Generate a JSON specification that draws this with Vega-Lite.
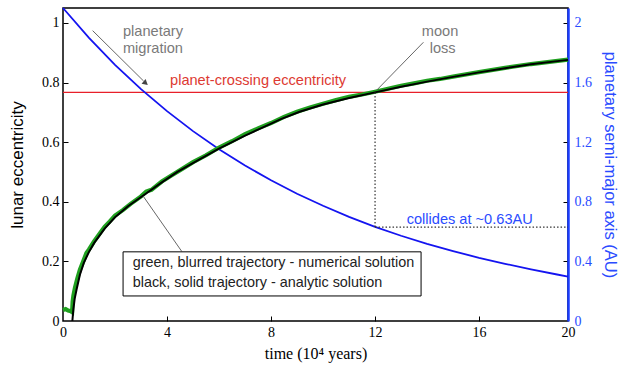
{
  "$schema": "https://vega.github.io/schema/vega-lite/v6.json",
  "width": 505,
  "height": 313,
  "autosize": {"type": "none"},
  "padding": {"left": 63, "top": 8, "right": 52, "bottom": 50},
  "background": "white",
  "config": {
    "view": {"stroke": "black", "strokeWidth": 1.5},
    "axis": {
      "labelFont": "Liberation Serif",
      "labelFontSize": 14,
      "labelColor": "black",
      "labelFlush": false,
      "titleFont": "Liberation Sans",
      "titleFontWeight": "normal",
      "titleFontSize": 17,
      "titleColor": "black",
      "grid": false,
      "domain": false,
      "tickColor": "black",
      "tickWidth": 1
    }
  },
  "datasets": {
    "blue": [
      {"t": 0, "a": 2.1},
      {"t": 1, "a": 1.9},
      {"t": 2, "a": 1.719},
      {"t": 3, "a": 1.556},
      {"t": 4, "a": 1.408},
      {"t": 5, "a": 1.274},
      {"t": 6, "a": 1.152},
      {"t": 7, "a": 1.043},
      {"t": 8, "a": 0.944},
      {"t": 9, "a": 0.854},
      {"t": 10, "a": 0.773},
      {"t": 11, "a": 0.699},
      {"t": 12, "a": 0.632},
      {"t": 13, "a": 0.572},
      {"t": 14, "a": 0.518},
      {"t": 15, "a": 0.469},
      {"t": 16, "a": 0.424},
      {"t": 17, "a": 0.384},
      {"t": 18, "a": 0.347},
      {"t": 19, "a": 0.312},
      {"t": 19.42, "a": 0.298}
    ],
    "black": [
      {"t": 0.36, "e": 0.0},
      {"t": 0.4, "e": 0.04},
      {"t": 0.45, "e": 0.075},
      {"t": 0.52, "e": 0.105},
      {"t": 0.65, "e": 0.155},
      {"t": 0.8, "e": 0.195},
      {"t": 1.0, "e": 0.232},
      {"t": 1.2, "e": 0.262},
      {"t": 1.6, "e": 0.31},
      {"t": 2.0, "e": 0.348},
      {"t": 2.5, "e": 0.385},
      {"t": 3.1, "e": 0.422},
      {"t": 3.8, "e": 0.465},
      {"t": 4.4, "e": 0.5},
      {"t": 5.2, "e": 0.54},
      {"t": 6.0, "e": 0.578},
      {"t": 7.0, "e": 0.622},
      {"t": 7.5, "e": 0.642},
      {"t": 8.4, "e": 0.678},
      {"t": 9.1, "e": 0.702},
      {"t": 10.0, "e": 0.726},
      {"t": 11.0, "e": 0.748},
      {"t": 12.0, "e": 0.767},
      {"t": 13.0, "e": 0.786},
      {"t": 14.0, "e": 0.803},
      {"t": 15.0, "e": 0.819},
      {"t": 16.0, "e": 0.834},
      {"t": 17.0, "e": 0.848},
      {"t": 18.0, "e": 0.861},
      {"t": 19.42, "e": 0.876}
    ],
    "green": [
      {"t": 0.0, "e": 0.037},
      {"t": 0.1, "e": 0.04},
      {"t": 0.2, "e": 0.035},
      {"t": 0.3, "e": 0.033},
      {"t": 0.35, "e": 0.03},
      {"t": 0.37, "e": 0.065},
      {"t": 0.4, "e": 0.085},
      {"t": 0.46, "e": 0.112},
      {"t": 0.55, "e": 0.142},
      {"t": 0.65, "e": 0.172},
      {"t": 0.8, "e": 0.205},
      {"t": 0.9, "e": 0.228},
      {"t": 1.0, "e": 0.24},
      {"t": 1.2, "e": 0.268},
      {"t": 1.4, "e": 0.292},
      {"t": 1.6, "e": 0.316},
      {"t": 1.8, "e": 0.334},
      {"t": 2.0, "e": 0.354},
      {"t": 2.3, "e": 0.372},
      {"t": 2.6, "e": 0.393},
      {"t": 3.0, "e": 0.418},
      {"t": 3.2, "e": 0.434},
      {"t": 3.4, "e": 0.44},
      {"t": 3.8, "e": 0.468},
      {"t": 4.2, "e": 0.49},
      {"t": 4.6, "e": 0.511},
      {"t": 5.0, "e": 0.533},
      {"t": 5.5, "e": 0.556},
      {"t": 6.0, "e": 0.582},
      {"t": 6.5, "e": 0.603},
      {"t": 7.0, "e": 0.627},
      {"t": 7.5, "e": 0.646},
      {"t": 8.0, "e": 0.664},
      {"t": 8.5, "e": 0.685},
      {"t": 9.0, "e": 0.702},
      {"t": 9.5, "e": 0.716},
      {"t": 10.0, "e": 0.729},
      {"t": 10.5, "e": 0.741},
      {"t": 11.0, "e": 0.752},
      {"t": 11.5, "e": 0.76},
      {"t": 12.0, "e": 0.769},
      {"t": 12.5, "e": 0.779},
      {"t": 13.0, "e": 0.789},
      {"t": 13.5, "e": 0.797},
      {"t": 14.0, "e": 0.806},
      {"t": 14.5, "e": 0.812},
      {"t": 15.0, "e": 0.82},
      {"t": 16.0, "e": 0.835},
      {"t": 17.0, "e": 0.849},
      {"t": 18.0, "e": 0.862},
      {"t": 19.42, "e": 0.877}
    ],
    "guides": [
      {"x1": 12, "x2": 12, "y1": 0.315, "y2": 0.767},
      {"x1": 12, "x2": 19.42, "y1": 0.315, "y2": 0.315}
    ],
    "pointers": [
      {"x1": 1.14, "y1": 0.974, "x2": 3.1, "y2": 0.805},
      {"x1": 13.86, "y1": 0.935, "x2": 12.07, "y2": 0.775},
      {"x1": 4.57, "y1": 0.233, "x2": 3.09, "y2": 0.418}
    ],
    "box": [{"x1": 2.31, "x2": 13.77, "y1": 0.084, "y2": 0.232}],
    "grayText": [
      {"t": 3.46, "e": 0.97, "label": "planetary"},
      {"t": 3.46, "e": 0.913, "label": "migration"},
      {"t": 14.5, "e": 0.97, "label": "moon"},
      {"t": 14.6, "e": 0.913, "label": "loss"}
    ],
    "legendText": [
      {"t": 2.68, "e": 0.194, "label": "green, blurred trajectory - numerical solution"},
      {"t": 2.68, "e": 0.127, "label": "black, solid trajectory - analytic solution"}
    ],
    "redText": [{"t": 7.5, "e": 0.805, "label": "planet-crossing eccentricity"}],
    "blueText": [{"t": 15.64, "e": 0.34, "label": "collides at ~0.63AU"}],
    "crossing": [{"e": 0.767}],
    "arrowhead": [{"t": 3.18, "e": 0.798}]
  },
  "layer": [
    {
      "data": {"name": "crossing"},
      "mark": {"type": "rule", "color": "#e8202a", "strokeWidth": 1.3},
      "encoding": {
        "y": {
          "field": "e", "type": "quantitative",
          "scale": {"domain": [0, 1.05], "nice": false},
          "axis": {"orient": "right", "offset": -5, "tickSize": 5, "labels": false, "title": null, "values": [0.2, 0.4, 0.6, 0.8, 1]}
        }
      }
    },
    {
      "data": {"name": "blue"},
      "mark": {"type": "line", "color": "#1414f0", "strokeWidth": 1.8},
      "encoding": {
        "x": {"field": "t", "type": "quantitative", "scale": {"domain": [0, 19.42], "nice": false, "zero": false}, "axis": null},
        "y": {
          "field": "a", "type": "quantitative",
          "scale": {"domain": [0, 2.1], "nice": false},
          "axis": {
            "orient": "right",
            "title": "planetary semi-major axis (AU)",
            "titleColor": "#2a4bff",
            "titleFontSize": 16.5,
            "labelColor": "#2a4bff",
            "values": [0, 0.4, 0.8, 1.2, 1.6, 2],
            "format": "~g",
            "domain": true,
            "domainColor": "#1a3cff",
            "domainWidth": 2.5,
            "ticks": false,
            "labelPadding": 6,
            "titlePadding": 10
          }
        }
      }
    },
    {
      "data": {"name": "green"},
      "mark": {"type": "line", "color": "#1fa01f", "strokeWidth": 4.2},
      "encoding": {
        "x": {
          "field": "t", "type": "quantitative",
          "axis": {"orient": "bottom", "offset": -5, "tickSize": 5, "labels": false, "title": null, "values": [4, 8, 12, 16]}
        },
        "y": {
          "field": "e", "type": "quantitative",
          "scale": {"domain": [0, 1.05], "nice": false},
          "axis": {"orient": "left", "offset": -5, "tickSize": 5, "labels": false, "title": null, "values": [0.2, 0.4, 0.6, 0.8, 1]}
        }
      }
    },
    {
      "data": {"name": "black"},
      "mark": {"type": "line", "color": "black", "strokeWidth": 2},
      "encoding": {
        "x": {
          "field": "t", "type": "quantitative",
          "axis": {
            "orient": "bottom",
            "title": "time (10⁴ years)",
            "titleFont": "Liberation Serif",
            "titleFontSize": 16,
            "titlePadding": 6,
            "values": [0, 4, 8, 12, 16, 19.42],
            "labelExpr": "datum.value > 19 ? '20' : datum.label",
            "ticks": false,
            "labelPadding": 4
          }
        },
        "y": {
          "field": "e", "type": "quantitative",
          "scale": {"domain": [0, 1.05], "nice": false},
          "axis": {
            "orient": "left",
            "title": "lunar eccentricity",
            "values": [0, 0.2, 0.4, 0.6, 0.8, 1],
            "format": "~g",
            "ticks": false,
            "labelPadding": 4,
            "titlePadding": 15
          }
        }
      }
    },
    {
      "data": {"name": "guides"},
      "mark": {"type": "rule", "color": "#333", "strokeWidth": 1.2, "strokeDash": [1.5, 2]},
      "encoding": {
        "x": {"field": "x1", "type": "quantitative", "axis": null},
        "x2": {"field": "x2"},
        "y": {"field": "y1", "type": "quantitative", "scale": {"domain": [0, 1.05], "nice": false}, "axis": null},
        "y2": {"field": "y2"}
      }
    },
    {
      "data": {"name": "pointers"},
      "mark": {"type": "rule", "color": "#555", "strokeWidth": 0.9},
      "encoding": {
        "x": {"field": "x1", "type": "quantitative", "axis": null},
        "x2": {"field": "x2"},
        "y": {"field": "y1", "type": "quantitative", "scale": {"domain": [0, 1.05], "nice": false}, "axis": null},
        "y2": {"field": "y2"}
      }
    },
    {
      "data": {"name": "arrowhead"},
      "mark": {"type": "point", "shape": "triangle-right", "filled": true, "color": "#444", "size": 40, "angle": 40, "opacity": 1},
      "encoding": {
        "x": {"field": "t", "type": "quantitative", "axis": null},
        "y": {"field": "e", "type": "quantitative", "scale": {"domain": [0, 1.05], "nice": false}, "axis": null}
      }
    },
    {
      "data": {"name": "box"},
      "mark": {"type": "rect", "fill": "white", "stroke": "black", "strokeWidth": 1},
      "encoding": {
        "x": {"field": "x1", "type": "quantitative", "axis": null},
        "x2": {"field": "x2"},
        "y": {"field": "y1", "type": "quantitative", "scale": {"domain": [0, 1.05], "nice": false}, "axis": null},
        "y2": {"field": "y2"}
      }
    },
    {
      "data": {"name": "legendText"},
      "mark": {"type": "text", "font": "Liberation Sans", "fontSize": 14.4, "align": "left", "baseline": "middle", "color": "#222"},
      "encoding": {
        "x": {"field": "t", "type": "quantitative", "axis": null},
        "y": {"field": "e", "type": "quantitative", "scale": {"domain": [0, 1.05], "nice": false}, "axis": null},
        "text": {"field": "label"}
      }
    },
    {
      "data": {"name": "grayText"},
      "mark": {"type": "text", "font": "Liberation Sans", "fontSize": 14.6, "align": "center", "baseline": "middle", "color": "#7a7a7a"},
      "encoding": {
        "x": {"field": "t", "type": "quantitative", "axis": null},
        "y": {"field": "e", "type": "quantitative", "scale": {"domain": [0, 1.05], "nice": false}, "axis": null},
        "text": {"field": "label"}
      }
    },
    {
      "data": {"name": "redText"},
      "mark": {"type": "text", "font": "Liberation Sans", "fontSize": 14.6, "align": "center", "baseline": "middle", "color": "#dd3a32"},
      "encoding": {
        "x": {"field": "t", "type": "quantitative", "axis": null},
        "y": {"field": "e", "type": "quantitative", "scale": {"domain": [0, 1.05], "nice": false}, "axis": null},
        "text": {"field": "label"}
      }
    },
    {
      "data": {"name": "blueText"},
      "mark": {"type": "text", "font": "Liberation Sans", "fontSize": 14.6, "align": "center", "baseline": "middle", "color": "#2a4bff"},
      "encoding": {
        "x": {"field": "t", "type": "quantitative", "axis": null},
        "y": {"field": "e", "type": "quantitative", "scale": {"domain": [0, 1.05], "nice": false}, "axis": null},
        "text": {"field": "label"}
      }
    }
  ],
  "resolve": {"scale": {"y": "independent"}, "axis": {"x": "independent"}}
}
